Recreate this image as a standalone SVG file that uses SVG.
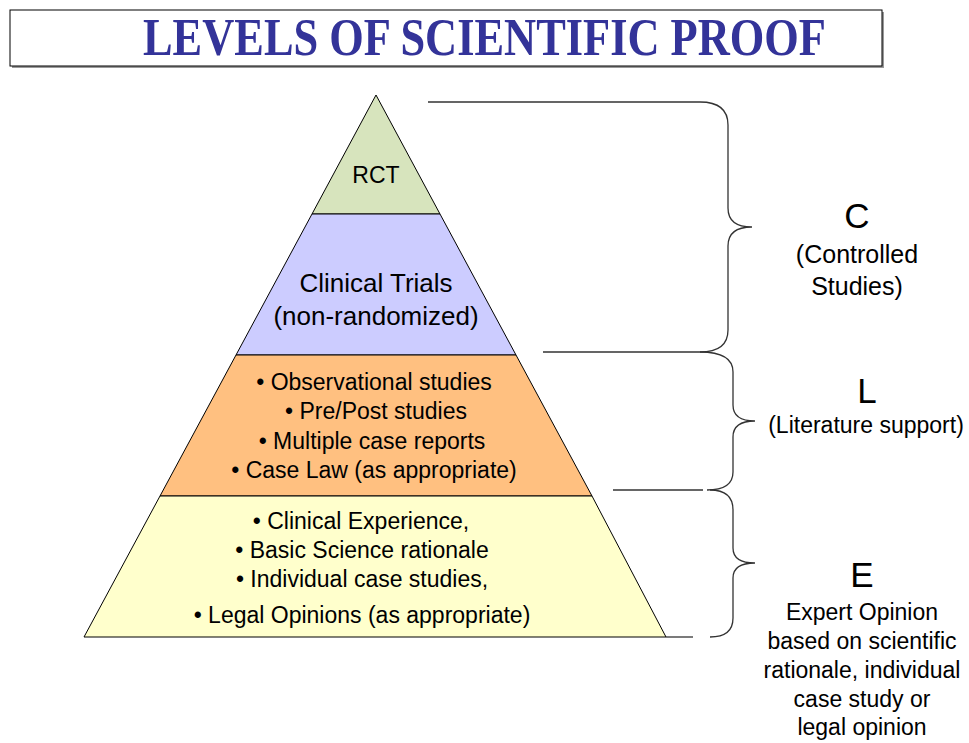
<svg xmlns="http://www.w3.org/2000/svg" width="969" height="743" viewBox="0 0 969 743">
<style>
.lvl{stroke:#000;stroke-width:1}
.t{font-family:"Liberation Sans",Arial,sans-serif;fill:#000;text-anchor:middle}
.br{fill:none;stroke:#333;stroke-width:1.3}
</style>
<rect width="969" height="743" fill="#fff"/>
<g id="title">
<rect x="12" y="12" width="872" height="56" fill="#999"/>
<rect x="10" y="10" width="872" height="56" fill="#fff" stroke="#000" stroke-width="1"/>
<text x="143" y="55" textLength="683" lengthAdjust="spacingAndGlyphs" font-family="Liberation Serif,Times New Roman,serif" font-weight="bold" font-size="52" fill="#333399">LEVELS OF SCIENTIFIC PROOF</text>
</g>
<g id="rct">
<polygon class="lvl" points="376,95 440,214 312,214" fill="#d7e4bd"/>
<text class="t" x="376" y="183" font-size="23">RCT</text>
</g>
<g id="clinical-trials">
<polygon class="lvl" points="312,214 440,214 516,355 236,355" fill="#ccccff"/>
<text class="t" x="376" y="292" font-size="26">Clinical Trials</text>
<text class="t" x="376" y="325" font-size="26">(non-randomized)</text>
</g>
<g id="observational">
<polygon class="lvl" points="236,355 516,355 592,496 160,496" fill="#ffc080"/>
<text class="t" x="374" y="390" font-size="23">• Observational studies</text>
<text class="t" x="376" y="419" font-size="23">• Pre/Post studies</text>
<text class="t" x="372" y="449" font-size="23">• Multiple case reports</text>
<text class="t" x="374" y="478" font-size="23">• Case Law (as appropriate)</text>
</g>
<g id="expert-base">
<polygon class="lvl" points="160,496 592,496 666,637 84,637" fill="#ffffcc"/>
<text class="t" x="361" y="529" font-size="23">• Clinical Experience,</text>
<text class="t" x="362" y="558" font-size="23">• Basic Science rationale</text>
<text class="t" x="362" y="587" font-size="23">• Individual case studies,</text>
<text class="t" x="362" y="623" font-size="23">• Legal Opinions (as appropriate)</text>
</g>
<g id="connectors">
<path class="br" d="M428,102 H700 Q728,102 728,125 V208 Q728,227 752,227 Q728,227 728,246 V330 Q728,352 700,352 H543"/>
<path class="br" d="M700,352 Q733,352 733,372 V405 Q733,421 755,421 Q733,421 733,437 V472 Q733,490 707,490"/>
<path class="br" d="M613,490 H703"/>
<path class="br" d="M710,490 Q733,490 733,510 V548 Q733,563 755,563 Q733,563 733,578 V618 Q733,637 710,637"/>
<path class="br" d="M666,637 H693"/>
</g>
<g id="label-c">
<text class="t" x="857" y="228" font-size="35">C</text>
<text class="t" x="857" y="263" font-size="25">(Controlled</text>
<text class="t" x="857" y="295" font-size="25">Studies)</text>
</g>
<g id="label-l">
<text class="t" x="867" y="403" font-size="35">L</text>
<text class="t" x="866" y="433" font-size="23">(Literature support)</text>
</g>
<g id="label-e">
<text class="t" x="862" y="587" font-size="35">E</text>
<text class="t" x="862" y="620" font-size="23">Expert Opinion</text>
<text class="t" x="862" y="649" font-size="23">based on scientific</text>
<text class="t" x="862" y="678" font-size="23">rationale, individual</text>
<text class="t" x="862" y="707" font-size="23">case study or</text>
<text class="t" x="862" y="735" font-size="23">legal opinion</text>
</g>
</svg>
